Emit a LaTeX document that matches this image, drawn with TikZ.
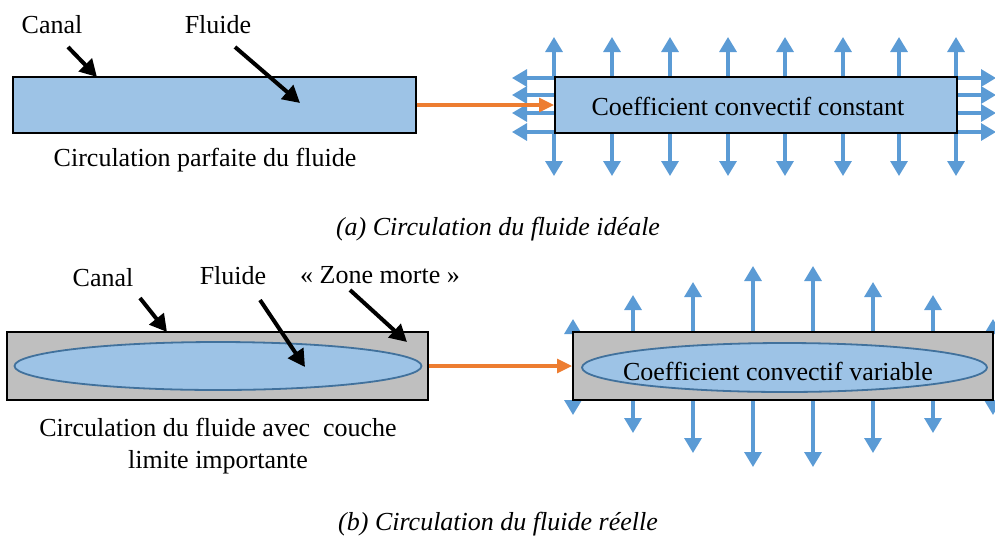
\documentclass[tikz,border=0pt]{standalone}
\usepackage{fontspec}
\setmainfont{Liberation Serif}
\usetikzlibrary{arrows.meta,calc,shapes.geometric}
\definecolor{fillblue}{HTML}{9DC3E6}
\definecolor{arrblue}{HTML}{5B9BD5}
\definecolor{ellblue}{HTML}{41719C}
\definecolor{canalgray}{HTML}{BFBFBF}
\definecolor{orng}{HTML}{ED7D31}
\begin{document}
\begin{tikzpicture}[x=1pt,y=-1pt,
  lbl/.style={font=\fontsize{26}{32}\selectfont, inner sep=0pt, align=center},
  captxt/.style={font=\fontsize{26}{32}\selectfont\itshape, inner sep=0pt},
  canalbox/.style={draw=black, line width=2pt, inner sep=0pt},
  fluidell/.style={ellipse, draw=ellblue, fill=fillblue, line width=1.8pt, inner sep=0pt},
  blk/.style={draw=black, line width=4pt, -{Triangle[width=18pt,length=17pt]}},
  blarr/.style={draw=arrblue, line width=3.2pt, -{Triangle[width=17pt,length=15pt]}},
  orarr/.style={draw=orng, line width=3.2pt, -{Triangle[width=14pt,length=15pt]}}
]
\useasboundingbox (0,0) rectangle (995,539);

% ---------- (a) top ----------
\node[canalbox, fill=fillblue, minimum width=403pt, minimum height=56pt] (c1) at (214,105) {};
\node[lbl] (canal1) at (52,25) {Canal};
\node[lbl] (fluide1) at (218,25) {Fluide};
\coordinate (a1s) at (68,47); \coordinate (a1e) at (97,77);
\coordinate (a2s) at (235,47); \coordinate (a2e) at (300,103);
\draw[blk] (a1s) -- (a1e);
\draw[blk] (a2s) -- (a2e);
\node[lbl] (parf) at (205,160) {Circulation parfaite du fluide};

% blue arrows around top right box
\foreach \x [count=\i] in {554,612,670,728,785,843,899,956} {
  \coordinate (ub\i) at (\x,77); \coordinate (ut\i) at (\x,37);
  \coordinate (db\i) at (\x,133); \coordinate (dt\i) at (\x,176);
  \draw[blarr] (ub\i) -- (ut\i);
  \draw[blarr] (db\i) -- (dt\i);
}
\foreach \y [count=\i] in {78,95,113,132} {
  \coordinate (lb\i) at (555,\y); \coordinate (lt\i) at (512,\y);
  \coordinate (rb\i) at (957,\y); \coordinate (rt\i) at (996,\y);
  \draw[blarr] (lb\i) -- (lt\i);
  \draw[blarr] (rb\i) -- (rt\i);
}
\node[canalbox, fill=fillblue, minimum width=402pt, minimum height=56pt] (r1) at (756,105) {};
\node[lbl] (t1) at (748,106) {Coefficient convectif constant};
\draw[orarr] (c1.east) -- (r1.west);

\node[captxt] (capa) at (498,229) {(a) Circulation du fluide idéale};

% ---------- (b) bottom ----------
\node[canalbox, fill=canalgray, minimum width=421pt, minimum height=68pt] (c2) at (217.5,366) {};
\node[fluidell, minimum width=407pt, minimum height=48pt] (e2) at (218,366) {};
\node[lbl] (canal2) at (103,278) {Canal};
\node[lbl] (fluide2) at (233,276) {Fluide};
\node[lbl] (zone) at (380,275) {« Zone morte »};
\coordinate (b1s) at (140,298); \coordinate (b1e) at (167,332);
\coordinate (b2s) at (260,300); \coordinate (b2e) at (305,367);
\coordinate (b3s) at (350,290); \coordinate (b3e) at (407,342);
\draw[blk] (b1s) -- (b1e);
\draw[blk] (b2s) -- (b2e);
\draw[blk] (b3s) -- (b3e);
\node[lbl] (avec) at (218,446) {Circulation du fluide avec\ \ couche\\limite importante};

\foreach \x/\u/\d [count=\i] in {573/319/415, 633/295/433, 693/282/453, 753/266/467, 813/266/467, 873/282/453, 933/295/433, 993/319/415} {
  \coordinate (vub\i) at (\x,332); \coordinate (vut\i) at (\x,\u);
  \coordinate (vdb\i) at (\x,400); \coordinate (vdt\i) at (\x,\d);
  \draw[blarr] (vub\i) -- (vut\i);
  \draw[blarr] (vdb\i) -- (vdt\i);
}
\node[canalbox, fill=canalgray, minimum width=420pt, minimum height=68pt] (r2) at (783,366) {};
\node[fluidell, minimum width=405pt, minimum height=49pt] (e3) at (784.5,367.5) {};
\node[lbl] (t2) at (778,371) {Coefficient convectif variable};
\draw[orarr] (c2.east) -- (r2.west);

\node[captxt] (capb) at (498,524) {(b) Circulation du fluide réelle};
\end{tikzpicture}
\end{document}
